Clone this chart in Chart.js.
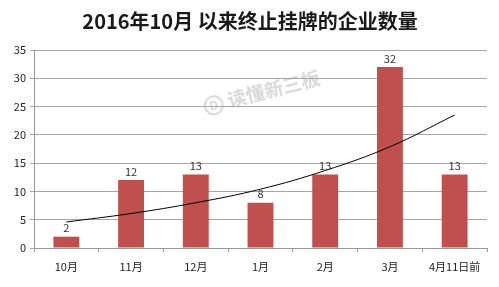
<!DOCTYPE html>
<html>
<head>
<meta charset="utf-8">
<script src="https://cdn.jsdelivr.net/npm/chart.js@4"></script>
<style>
  html, body { margin: 0; padding: 0; background: #fff; }
  #wrap { width: 499px; height: 287px; position: relative; }
</style>
</head>
<body>
<div id="wrap"><canvas id="chart"></canvas></div>
<script>
// Data
const months = ["10月", "11月", "12月", "1月", "2月", "3月", "4月11日前"];
const counts = [2, 12, 13, 8, 13, 32, 13];
const trend = [4.6, 6.1, 8.0, 10.4, 13.7, 17.9, 23.5];
const yTicks = [0, 5, 10, 15, 20, 25, 30, 35];

const FONT = "'Noto Sans CJK SC', 'Noto Sans', sans-serif";

// Title, value labels and watermark
const extras = {
  id: "extras",
  beforeDatasetsDraw(chart) {
    const ctx = chart.ctx;
    ctx.save();
    ctx.translate(262, 92);
    ctx.rotate(-0.25);
    ctx.fillStyle = "rgba(170,170,170,0.45)";
    ctx.font = "bold 19px " + FONT;
    ctx.textAlign = "center";
    ctx.textBaseline = "middle";
    ctx.fillText("读懂新三板", 12, 0);
    ctx.strokeStyle = "rgba(170,170,170,0.45)";
    ctx.lineWidth = 2;
    ctx.beginPath();
    ctx.arc(-50, 1, 9, 0, Math.PI * 2);
    ctx.stroke();
    ctx.font = "bold 12px " + FONT;
    ctx.fillText("D", -50, 1);
    ctx.restore();
  },
  afterDraw(chart) {
    const ctx = chart.ctx;
    ctx.save();
    ctx.fillStyle = "#1a1a1a";
    ctx.font = "bold 20px " + FONT;
    ctx.textAlign = "center";
    ctx.textBaseline = "middle";
    ctx.fillText("2016年10月 以来终止挂牌的企业数量", 250, 21);

    ctx.fillStyle = "#333";
    ctx.font = "11px " + FONT;
    ctx.textBaseline = "bottom";
    chart.getDatasetMeta(0).data.forEach((bar, i) => {
      ctx.fillText(counts[i], bar.x, bar.y - 3);
    });
    ctx.restore();
  }
};

new Chart(document.getElementById("chart"), {
  data: {
    labels: months,
    datasets: [
      {
        type: "bar",
        data: counts,
        backgroundColor: "#c0504d",
        barPercentage: 0.4,
        categoryPercentage: 1,
        order: 2
      },
      {
        type: "line",
        data: trend,
        borderColor: "#000",
        borderWidth: 1,
        pointRadius: 0,
        tension: 0.4,
        fill: false,
        order: 1
      }
    ]
  },
  options: {
    responsive: true,
    maintainAspectRatio: false,
    animation: false,
    layout: { padding: { left: 0, right: 12, top: 50, bottom: 0 } },
    plugins: {
      legend: { display: false },
      tooltip: { enabled: false }
    },
    scales: {
      x: {
        offset: true,
        grid: {
          offset: true,
          drawOnChartArea: false,
          tickLength: 4,
          color: "#999"
        },
        border: { color: "#999" },
        ticks: {
          color: "#222",
          font: { size: 11, family: FONT },
          padding: 8,
          maxRotation: 0
        },
        afterFit(scale) { scale.height = 39; }
      },
      y: {
        min: 0,
        max: 35,
        afterBuildTicks(scale) {
          scale.ticks = yTicks.map(v => ({ value: v }));
        },
        grid: { color: "#a6a6a6", tickLength: 4 },
        border: { color: "#999" },
        ticks: {
          color: "#222",
          font: { size: 11, family: FONT },
          padding: 4
        },
        afterFit(scale) { scale.width = 34; }
      }
    }
  },
  plugins: [extras]
});
</script>
</body>
</html>
